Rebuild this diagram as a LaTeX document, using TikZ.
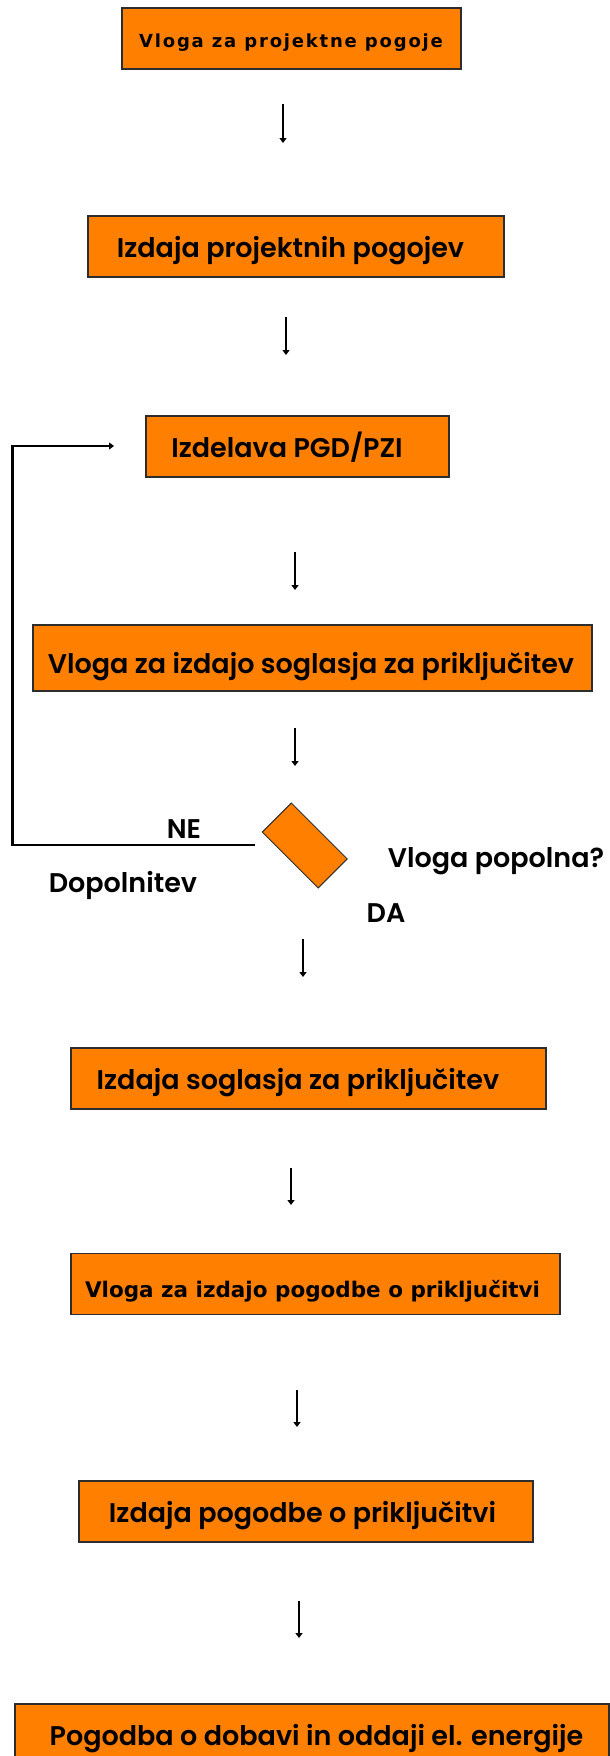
\documentclass[tikz,border=0pt]{standalone}
\usepackage{fontspec}
\setmainfont{Poppins}[BoldFont={* SemiBold}]
\newfontfamily\pixelfont{DejaVu Sans}
\newfontfamily\widepixelfont{DejaVu Sans}[LetterSpace=10]
\usetikzlibrary{arrows.meta, positioning}
\definecolor{boxorange}{RGB}{255,128,0}
\definecolor{boxedge}{RGB}{45,45,45}

\begin{document}
\begin{tikzpicture}[x=1pt, y=-1pt,
    stepbox/.style={draw=boxedge, line width=1.2pt, fill=boxorange, inner sep=0pt, minimum height=61pt},
    boxtext/.style={font=\bfseries\fontsize{27}{30}\selectfont, inner sep=0pt, anchor=base},
    smalltext/.style={font=\pixelfont\bfseries\fontsize{21.5}{24}\selectfont, inner sep=0pt, anchor=base},
    flow/.style={-{Triangle[length=5pt,width=7pt]}, line width=2.6pt},
  ]
    \useasboundingbox (0,0) rectangle (610,1756);

    % Boxes
    \node[stepbox, minimum width=339pt] (b1) at (291.5,38.5) {};
    \node[stepbox, minimum width=416pt] (b2) at (296,246.5) {};
    \node[stepbox, minimum width=303pt] (b3) at (297.5,446.5) {};
    \node[stepbox, minimum width=559pt, minimum height=66pt] (b4) at (312.5,658) {};
    \node[stepbox, minimum width=475pt] (b5) at (308.5,1078.5) {};
    \node[stepbox, minimum width=489pt] (b6) at (315.5,1284) {};
    \node[stepbox, minimum width=454pt] (b7) at (306,1511.5) {};
    \node[stepbox, minimum width=594pt] (b8) at (312,1734.5) {};

    % Box texts
    \node[smalltext, font=\widepixelfont\bfseries\fontsize{18}{20}\selectfont] (t1) at (291,47) {Vloga za projektne pogoje};
    \node[boxtext] (t2) at (290.5,257) {Izdaja projektnih pogojev};
    \node[boxtext] (t3) at (287,457) {Izdelava PGD/PZI};
    \node[boxtext] (t4) at (311,673) {Vloga za izdajo soglasja za priključitev};
    \node[boxtext] (t5) at (298,1089) {Izdaja soglasja za priključitev};
    \node[smalltext] (t6) at (312.5,1297) {Vloga za izdajo pogodbe o priključitvi};
    \node[boxtext] (t7) at (302.5,1522) {Izdaja pogodbe o priključitvi};
    \node[boxtext] (t8) at (316.5,1745) {Pogodba o dobavi in oddaji el. energije};

    % Decision
    \node[draw=boxedge, line width=1pt, fill=boxorange, inner sep=0pt,
          minimum width=79pt, minimum height=41pt, rotate=-45] (dec) at (304.75,845.5) {};
    \node[boxtext] (ne) at (184,838) {NE};
    \node[boxtext] (dop) at (123,892) {Dopolnitev};
    \node[boxtext] (q) at (496,867) {Vloga popolna?};
    \node[boxtext] (da) at (386,922) {DA};

    % Arrows
    \coordinate (a1s) at (283,104);  \coordinate (a1e) at (283,143);
    \coordinate (a2s) at (286,317);  \coordinate (a2e) at (286,355);
    \coordinate (a3s) at (295,552);  \coordinate (a3e) at (295,590);
    \coordinate (a4s) at (295,728);  \coordinate (a4e) at (295,766);
    \coordinate (a5s) at (303,939);  \coordinate (a5e) at (303,977);
    \coordinate (a6s) at (291,1168); \coordinate (a6e) at (291,1205);
    \coordinate (a7s) at (297,1390); \coordinate (a7e) at (297,1427);
    \coordinate (a8s) at (299,1601); \coordinate (a8e) at (299,1638);
    \draw[flow] (a1s) -- (a1e);
    \draw[flow] (a2s) -- (a2e);
    \draw[flow] (a3s) -- (a3e);
    \draw[flow] (a4s) -- (a4e);
    \draw[flow] (a5s) -- (a5e);
    \draw[flow] (a6s) -- (a6e);
    \draw[flow] (a7s) -- (a7e);
    \draw[flow] (a8s) -- (a8e);

    % Back loop
    \coordinate (fb1) at (255,845);
    \coordinate (fb2) at (12.5,845);
    \coordinate (fb3) at (12.5,446);
    \coordinate (fb4) at (114,446);
    \draw[flow, line width=2.2pt] (fb1) -- (fb2) -- (fb3) -- (fb4);
\end{tikzpicture}
\end{document}
